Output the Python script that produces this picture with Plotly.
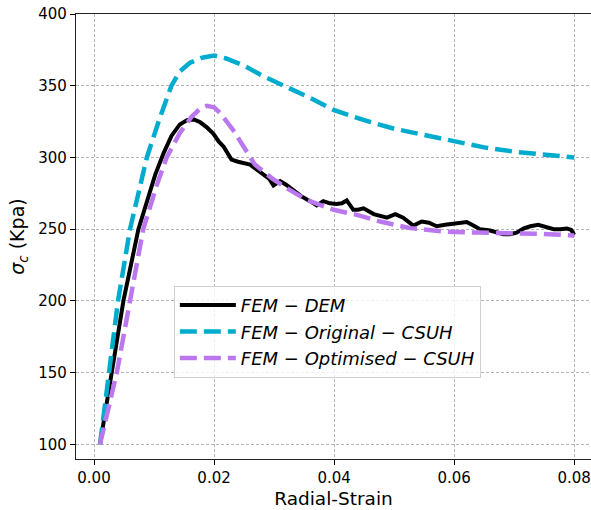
import plotly.graph_objects as go

dem_x = [0.001, 0.003, 0.0049, 0.0074, 0.0088, 0.0102, 0.0116, 0.0129, 0.0143, 0.0155, 0.0166,
         0.0177, 0.0188, 0.0199, 0.0208, 0.0216, 0.0229, 0.024, 0.026, 0.0272, 0.0282, 0.0292,
         0.0299, 0.031, 0.032, 0.0332, 0.0345, 0.036, 0.0371, 0.0382, 0.0393, 0.0404, 0.0413,
         0.0421, 0.0432, 0.044, 0.0449, 0.0466, 0.0477, 0.0488, 0.0502, 0.0515, 0.0532, 0.0546,
         0.0558, 0.0571, 0.0585, 0.0599, 0.0621, 0.0632, 0.0643, 0.066, 0.0682, 0.0693, 0.0704,
         0.0716, 0.0727, 0.074, 0.0753, 0.0766, 0.0777, 0.0788, 0.0795, 0.08]
dem_y = [100, 150, 200, 250, 268, 288, 303, 315, 323, 326, 326.5,
         324.5, 321, 316.5, 311, 307.5, 298.5, 297, 295, 291, 288, 285,
         280.5, 283.5, 281, 277, 273, 269.5, 266.5, 269.5, 268, 267.5, 268,
         270, 263.5, 263.5, 264.5, 260.5, 259.5, 258, 260.5, 258, 252.5, 255.3,
         254.5, 252, 253, 254, 255, 252.5, 250, 249, 246.5, 246.5, 247.5,
         250.5, 252, 253, 251.5, 250, 250, 250.5, 249.5, 246]

orig_x = [0.001, 0.0025, 0.004, 0.006, 0.0088, 0.011, 0.0129, 0.0143, 0.016, 0.018, 0.02,
          0.022, 0.025, 0.028, 0.0315, 0.036, 0.04, 0.045, 0.05, 0.055, 0.06, 0.065, 0.07,
          0.075, 0.08]
orig_y = [100, 150, 200, 250, 300, 328, 350, 360, 366, 369.5, 371,
          369, 364, 357, 350.5, 341.5, 333, 326, 320, 315.5, 311.5, 307, 304,
          302, 300]

opt_x = [0.001, 0.0038, 0.006, 0.0082, 0.0104, 0.0121, 0.0143, 0.0163, 0.0177, 0.0188, 0.02,
         0.021, 0.0232, 0.0249, 0.0268, 0.0296, 0.0321, 0.0354, 0.0399, 0.0438, 0.0477, 0.0527,
         0.0582, 0.0638, 0.0693, 0.0749, 0.08]
opt_y = [100, 150, 200, 250, 280, 300, 317, 328.6, 334, 336, 335,
         331, 319, 307.6, 295, 285.6, 278.6, 270.4, 263.5, 260, 255.3, 250.7,
         248.3, 247.6, 247.2, 246.7, 245.5]

x_ticks = [0.0, 0.02, 0.04, 0.06, 0.08]
x_tick_text = ["0.00", "0.02", "0.04", "0.06", "0.08"]
y_ticks = [100, 150, 200, 250, 300, 350, 400]

names = ["<i>FEM − DEM</i>", "<i>FEM − Original − CSUH</i>", "<i>FEM − Optimised − CSUH</i>"]

fig = go.Figure()
fig.add_trace(go.Scatter(x=dem_x, y=dem_y, mode="lines", name=names[0],
                         line=dict(color="black", width=4)))
fig.add_trace(go.Scatter(x=orig_x, y=orig_y, mode="lines", name=names[1],
                         line=dict(color="#00ACCD", width=4.5, dash="17px,7px")))
fig.add_trace(go.Scatter(x=opt_x, y=opt_y, mode="lines", name=names[2],
                         line=dict(color="#BB77EE", width=4.5, dash="17px,7px")))

font = "DejaVu Sans, Liberation Sans, sans-serif"
grid = dict(showgrid=True, gridcolor="#b4b4b4", griddash="3px,2px", gridwidth=0.9)
fig.update_layout(
    width=591, height=510,
    margin=dict(l=76, r=0, t=14, b=51),
    paper_bgcolor="white", plot_bgcolor="white",
    font=dict(family=font, size=15, color="black"),
    showlegend=True,
    legend=dict(x=0.19, y=0.389, xanchor="left", yanchor="top",
                bgcolor="rgba(255,255,255,0.8)", bordercolor="#d0d0d0", borderwidth=1,
                font=dict(family=font, size=18), tracegroupgap=0, itemwidth=56),
    xaxis=dict(range=[-0.003, 0.0828], tickvals=x_ticks, ticktext=x_tick_text,
               showline=True, linecolor="#222", linewidth=1.2, mirror=True,
               ticks="outside", ticklen=5, tickcolor="black",
               zeroline=False, **grid,
               title=dict(text="Radial-Strain", font=dict(size=18.5), standoff=5)),
    yaxis=dict(range=[89.75, 400], tickvals=y_ticks,
               showline=True, linecolor="#222", linewidth=1.2,
               ticks="outside", ticklen=5, tickcolor="black",
               zeroline=False, **grid,
               title=dict(text="<i>σ</i><sub><i>c</i></sub> (Kpa)", font=dict(size=19), standoff=8)),
)

fig.write_html("out.html")
